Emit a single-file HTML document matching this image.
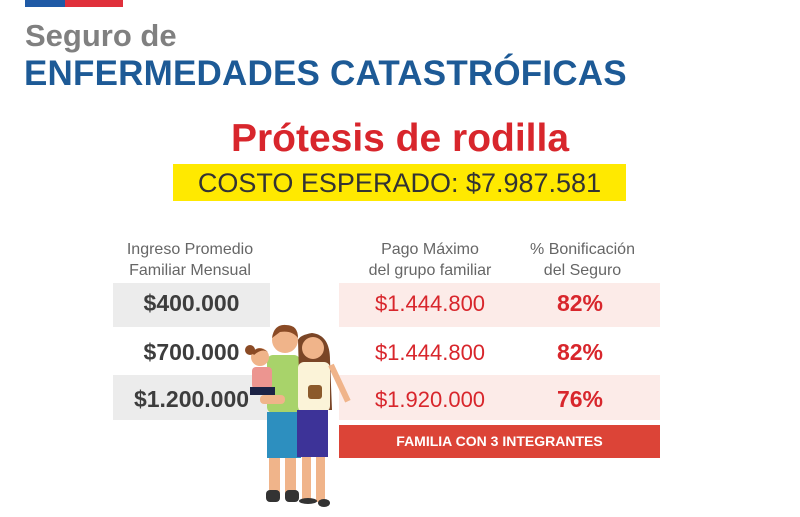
<!DOCTYPE html>
<html><head><meta charset="utf-8"><style>
body{margin:0;width:800px;height:517px;background:#fff;position:relative;overflow:hidden;font-family:"Liberation Sans",sans-serif}
div{position:absolute}
.h{color:#666;font-size:16px;text-align:center;line-height:21px;font-weight:300}
.g{background:#ececec}
.p{background:#fcebe8}
.inc{color:#3d3d3d;font-weight:bold;font-size:23px;text-align:center}
.pay{color:#d8262c;font-size:22px;text-align:center}
.pct{color:#d8262c;font-weight:bold;font-size:23px;text-align:center}
</style></head><body>
<div style="left:25px;top:0;width:40px;height:7px;background:#1f5aa6"></div>
<div style="left:65px;top:0;width:58px;height:7px;background:#e0303b"></div>
<div style="left:25px;top:18px;font-size:31px;font-weight:bold;color:#808080;line-height:36px">Seguro de</div>
<div style="left:24px;top:54px;font-size:35px;font-weight:900;color:#1d5a96;line-height:40px;letter-spacing:0.2px">ENFERMEDADES CATASTRÓFICAS</div>
<div style="left:0;width:800px;top:117px;text-align:center;font-size:39px;font-weight:bold;color:#d8262c;line-height:44px">Prótesis de rodilla</div>
<div style="left:173px;top:164px;width:453px;height:37px;background:#ffe900;text-align:center;font-size:27px;line-height:38px;color:#333">COSTO ESPERADO: $7.987.581</div>
<div class="h" style="left:100px;width:180px;top:239px">Ingreso Promedio<br>Familiar Mensual</div>
<div class="h" style="left:340px;width:180px;top:239px">Pago Máximo<br>del grupo familiar</div>
<div class="h" style="left:490px;width:185px;top:239px">% Bonificación<br>del Seguro</div>
<div class="g" style="left:113px;top:283px;width:157px;height:44px"></div>
<div class="p" style="left:339px;top:283px;width:321px;height:44px"></div>
<div class="g" style="left:113px;top:375px;width:157px;height:45px"></div>
<div class="p" style="left:339px;top:375px;width:321px;height:45px"></div>
<div class="inc" style="left:103px;width:177px;top:290px">$400.000</div>
<div class="inc" style="left:103px;width:177px;top:339px">$700.000</div>
<div class="inc" style="left:103px;width:177px;top:386px">$1.200.000</div>
<div class="pay" style="left:340px;width:180px;top:291px">$1.444.800</div>
<div class="pay" style="left:340px;width:180px;top:340px">$1.444.800</div>
<div class="pay" style="left:340px;width:180px;top:387px">$1.920.000</div>
<div class="pct" style="left:530px;width:100px;top:290px">82%</div>
<div class="pct" style="left:530px;width:100px;top:339px">82%</div>
<div class="pct" style="left:530px;width:100px;top:386px">76%</div>
<div style="left:339px;top:425px;width:321px;height:33px;background:#dc4437;color:#fff;font-weight:bold;font-size:14px;text-align:center;line-height:33px">FAMILIA CON 3 INTEGRANTES</div>
<svg style="position:absolute;left:240px;top:320px" width="120" height="197" viewBox="0 0 120 197">
<rect x="29" y="120" width="11" height="55" fill="#f0b48a"/><rect x="45" y="120" width="11" height="55" fill="#f0b48a"/>
<rect x="26" y="170" width="14" height="12" rx="4" fill="#333"/><rect x="45" y="170" width="14" height="12" rx="4" fill="#333"/>
<rect x="62" y="130" width="9" height="50" fill="#f0b48a"/><rect x="76" y="130" width="9" height="52" fill="#f0b48a"/>
<ellipse cx="68" cy="181" rx="9" ry="3" fill="#333"/><ellipse cx="84" cy="183" rx="6" ry="4" fill="#333"/>
<rect x="27" y="35" width="33" height="58" rx="6" fill="#a8d36a"/>
<rect x="27" y="92" width="34" height="46" fill="#2d8fbf"/>
<circle cx="45" cy="20" r="13" fill="#f0b48a"/><path d="M32 18 Q34 4 46 5 Q58 5 58 18 Q52 10 40 12Z" fill="#8a4a25"/>
<path d="M58 20 Q60 15 72 13 Q90 15 90 40 L92 90 L60 90Z" fill="#7a4526"/>
<rect x="58" y="42" width="32" height="50" rx="6" fill="#fbf3d8"/>
<rect x="88" y="45" width="6" height="40" fill="#f0b48a" transform="rotate(-25 91 45)"/>
<rect x="57" y="90" width="31" height="47" fill="#3d3398"/>
<circle cx="73" cy="28" r="11" fill="#f0b48a"/>
<rect x="68" y="65" width="14" height="14" rx="3" fill="#8b5a2b"/>
<rect x="12" y="47" width="20" height="22" rx="4" fill="#ec9590"/>
<rect x="10" y="67" width="25" height="8" fill="#1c2346"/>
<circle cx="20" cy="37" r="9" fill="#f0b48a"/><circle cx="10" cy="30" r="5" fill="#8a4a25"/><path d="M12 33 Q18 24 28 32 Q22 28 14 35Z" fill="#8a4a25"/>
<rect x="20" y="75" width="25" height="9" rx="4" fill="#f0b48a"/>
</svg>
</body></html>
